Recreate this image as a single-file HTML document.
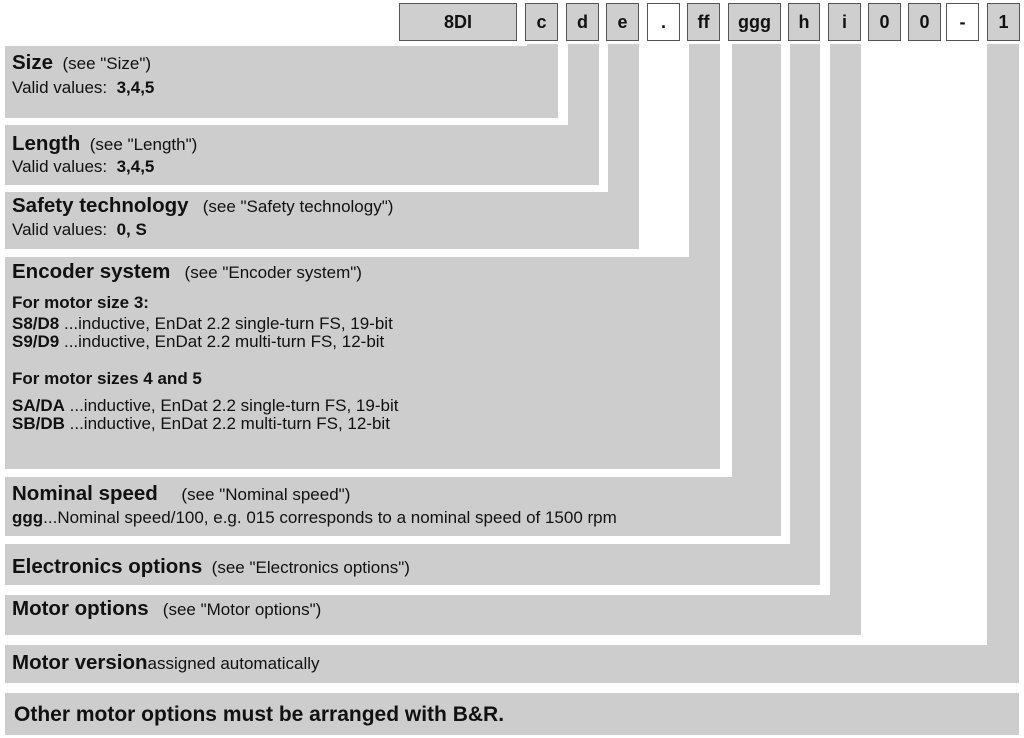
<!DOCTYPE html>
<html><head><meta charset="utf-8"><style>
body{margin:0;width:1024px;height:738px;background:#fff;position:relative;overflow:hidden;font-family:"Liberation Sans",Arial,sans-serif;color:#111}
.h{position:absolute;top:3px;border:1px solid #555;background:#cfcfd0;font-weight:bold;font-size:18px;text-align:center;line-height:36px;box-sizing:border-box;height:38px}
.w{background:#fff}
.g{position:absolute;background:#cdcdce}
.t{position:absolute;font-size:17px;white-space:nowrap}
.b{font-weight:bold;font-size:20.5px}
</style></head><body>
<div class="h" style="left:399px;width:118px">8DI</div>
<div class="h" style="left:525px;width:33px">c</div>
<div class="h" style="left:566px;width:33px">d</div>
<div class="h" style="left:606px;width:33px">e</div>
<div class="h w" style="left:647px;width:33px">.</div>
<div class="h" style="left:687px;width:33px">ff</div>
<div class="h" style="left:728px;width:53px">ggg</div>
<div class="h" style="left:788px;width:32px">h</div>
<div class="h" style="left:828px;width:33px">i</div>
<div class="h" style="left:868px;width:33px">0</div>
<div class="h" style="left:908px;width:33px">0</div>
<div class="h w" style="left:946px;width:33px">-</div>
<div class="h" style="left:987px;width:33px">1</div>

<div class="g" style="left:527px;top:44px;width:31px;height:10px"></div>
<div class="g" style="left:568px;top:44px;width:31px;height:90px"></div>
<div class="g" style="left:608px;top:44px;width:31px;height:150px"></div>
<div class="g" style="left:689px;top:44px;width:31px;height:215px"></div>
<div class="g" style="left:732px;top:44px;width:49px;height:435px"></div>
<div class="g" style="left:790px;top:44px;width:30px;height:502px"></div>
<div class="g" style="left:830px;top:44px;width:31px;height:553px"></div>
<div class="g" style="left:987px;top:44px;width:32px;height:603px"></div>

<div class="g" style="left:5px;top:46px;width:553px;height:72px"></div>
<div class="g" style="left:5px;top:125px;width:594px;height:60px"></div>
<div class="g" style="left:5px;top:192px;width:634px;height:57px"></div>
<div class="g" style="left:5px;top:257px;width:715px;height:212px"></div>
<div class="g" style="left:5px;top:477px;width:776px;height:59px"></div>
<div class="g" style="left:5px;top:544px;width:815px;height:41px"></div>
<div class="g" style="left:5px;top:595px;width:856px;height:40px"></div>
<div class="g" style="left:5px;top:645px;width:1014px;height:38px"></div>
<div class="g" style="left:5px;top:693px;width:1014px;height:42px"></div>

<div class="t" style="left:12px;top:51px"><span class="b">Size</span>&nbsp; (see "Size")</div>
<div class="t" style="left:12px;top:78px">Valid values:&nbsp; <b>3,4,5</b></div>
<div class="t" style="left:12px;top:132px"><span class="b">Length</span>&nbsp; (see "Length")</div>
<div class="t" style="left:12px;top:157px">Valid values:&nbsp; <b>3,4,5</b></div>
<div class="t" style="left:12px;top:194px"><span class="b">Safety technology</span>&nbsp;&nbsp; (see "Safety technology")</div>
<div class="t" style="left:12px;top:220px">Valid values:&nbsp; <b>0, S</b></div>
<div class="t" style="left:12px;top:260px"><span class="b">Encoder system</span>&nbsp;&nbsp; (see "Encoder system")</div>
<div class="t" style="left:12px;top:293px"><b>For motor size 3:</b></div>
<div class="t" style="left:12px;top:314px"><b>S8/D8</b> ...inductive, EnDat 2.2 single-turn FS, 19-bit</div>
<div class="t" style="left:12px;top:332px"><b>S9/D9</b> ...inductive, EnDat 2.2 multi-turn FS, 12-bit</div>
<div class="t" style="left:12px;top:369px"><b>For motor sizes 4 and 5</b></div>
<div class="t" style="left:12px;top:396px"><b>SA/DA</b> ...inductive, EnDat 2.2 single-turn FS, 19-bit</div>
<div class="t" style="left:12px;top:414px"><b>SB/DB</b> ...inductive, EnDat 2.2 multi-turn FS, 12-bit</div>
<div class="t" style="left:12px;top:482px"><span class="b">Nominal speed</span>&nbsp;&nbsp;&nbsp;&nbsp; (see "Nominal speed")</div>
<div class="t" style="left:12px;top:508px"><b>ggg</b>...Nominal speed/100, e.g. 015 corresponds to a nominal speed of 1500 rpm</div>
<div class="t" style="left:12px;top:555px"><span class="b">Electronics options</span>&nbsp; (see "Electronics options")</div>
<div class="t" style="left:12px;top:597px"><span class="b">Motor options</span>&nbsp;&nbsp; (see "Motor options")</div>
<div class="t" style="left:12px;top:651px"><span class="b">Motor version</span>assigned automatically</div>
<div class="t" style="left:14px;top:703px"><span class="b" style="font-size:21px">Other motor options must be arranged with B&amp;R.</span></div>
</body></html>
